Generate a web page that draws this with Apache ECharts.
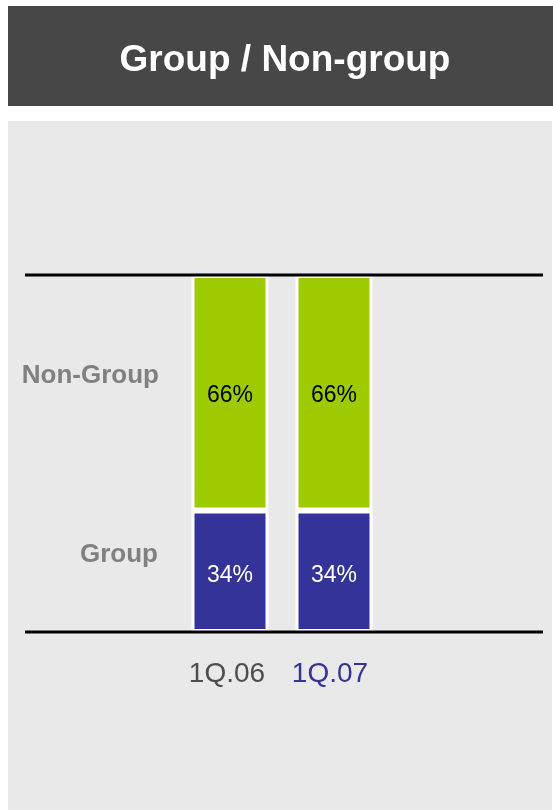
<!DOCTYPE html>
<html>
<head>
<meta charset="utf-8">
<script src="https://cdn.jsdelivr.net/npm/echarts@6/dist/echarts.min.js"></script>
<style>
  html, body { margin: 0; padding: 0; background: #ffffff; }
  #main { width: 553px; height: 810px; }
</style>
</head>
<body>
<div id="main"></div>
<script>
var categories = ['1Q.06', '1Q.07'];
var categoryColors = ['#4d4d4d', '#333399'];
var groupValues = [34, 34];
var nonGroupValues = [66, 66];
var seriesNames = ['Group', 'Non-Group'];

var myChart = echarts.init(document.getElementById('main'));

var option = {
    backgroundColor: '#ffffff',
    animation: false,
    title: {
        text: 'Group / Non-group',
        left: 280,
        top: 56,
        textAlign: 'center',
        textVerticalAlign: 'middle',
        textStyle: {
            color: '#ffffff',
            fontFamily: 'Liberation Sans, Arial, sans-serif',
            fontWeight: 'bold',
            fontSize: 37
        }
    },
    grid: { left: 178, right: 167, top: 275, bottom: 178 },
    xAxis: {
        type: 'category',
        data: categories,
        axisLine: { show: false },
        axisTick: { show: false },
        axisLabel: {
            interval: 0,
            margin: 28,
            fontFamily: 'Liberation Sans, Arial, sans-serif',
            fontSize: 28,
            formatter: function (v, i) { return '{c' + i + '|' + v + '}'; },
            rich: {
                c0: { color: categoryColors[0], fontSize: 28, fontFamily: 'Liberation Sans, Arial, sans-serif', padding: [0, 6, 0, 0] },
                c1: { color: categoryColors[1], fontSize: 28, fontFamily: 'Liberation Sans, Arial, sans-serif', padding: [0, 8, 0, 0] }
            }
        }
    },
    yAxis: {
        type: 'value',
        min: 0,
        max: 100,
        show: false
    },
    series: [
        {
            name: seriesNames[0],
            type: 'bar',
            stack: 'total',
            barWidth: 77,
            data: groupValues,
            itemStyle: { color: '#333399', borderColor: '#ffffff', borderWidth: 3 },
            label: {
                show: true,
                position: 'inside',
                offset: [0, 4],
                formatter: '{c}%',
                color: '#ffffff',
                fontSize: 23,
                fontFamily: 'Liberation Sans, Arial, sans-serif'
            }
        },
        {
            name: seriesNames[1],
            type: 'bar',
            stack: 'total',
            barWidth: 77,
            data: nonGroupValues,
            itemStyle: { color: '#9dcb00', borderColor: '#ffffff', borderWidth: 3 },
            label: {
                show: true,
                position: 'inside',
                offset: [0, 3],
                formatter: '{c}%',
                color: '#000000',
                fontSize: 23,
                fontFamily: 'Liberation Sans, Arial, sans-serif'
            }
        }
    ]
};
myChart.setOption(option);

// background panels, rules and side labels placed from the axis scale
var yTop = myChart.convertToPixel({ yAxisIndex: 0 }, 100);
var yBottom = myChart.convertToPixel({ yAxisIndex: 0 }, 0);
var yGroupMid = myChart.convertToPixel({ yAxisIndex: 0 }, groupValues[0] / 2);
var yNonMid = myChart.convertToPixel({ yAxisIndex: 0 }, groupValues[0] + nonGroupValues[0] / 2);

myChart.setOption({
    graphic: [
        { type: 'rect', z: -10, silent: true, shape: { x: 8, y: 6, width: 545, height: 100 }, style: { fill: '#474747' } },
        { type: 'rect', z: -10, silent: true, shape: { x: 8, y: 121, width: 544, height: 689 }, style: { fill: '#e9e9e9' } },
        { type: 'line', z: 100, silent: true, shape: { x1: 25, y1: yTop, x2: 543, y2: yTop }, style: { stroke: '#000000', lineWidth: 3 } },
        { type: 'line', z: 100, silent: true, shape: { x1: 25, y1: yBottom, x2: 543, y2: yBottom }, style: { stroke: '#000000', lineWidth: 3 } },
        { type: 'text', z: 100, silent: true, x: 159, y: yNonMid - 17,
          style: { text: seriesNames[1], fill: '#808080', font: 'bold 26px "Liberation Sans", Arial, sans-serif', textAlign: 'right', textVerticalAlign: 'middle' } },
        { type: 'text', z: 100, silent: true, x: 158, y: yGroupMid - 16,
          style: { text: seriesNames[0], fill: '#808080', font: 'bold 26px "Liberation Sans", Arial, sans-serif', textAlign: 'right', textVerticalAlign: 'middle' } }
    ]
});
</script>
</body>
</html>
